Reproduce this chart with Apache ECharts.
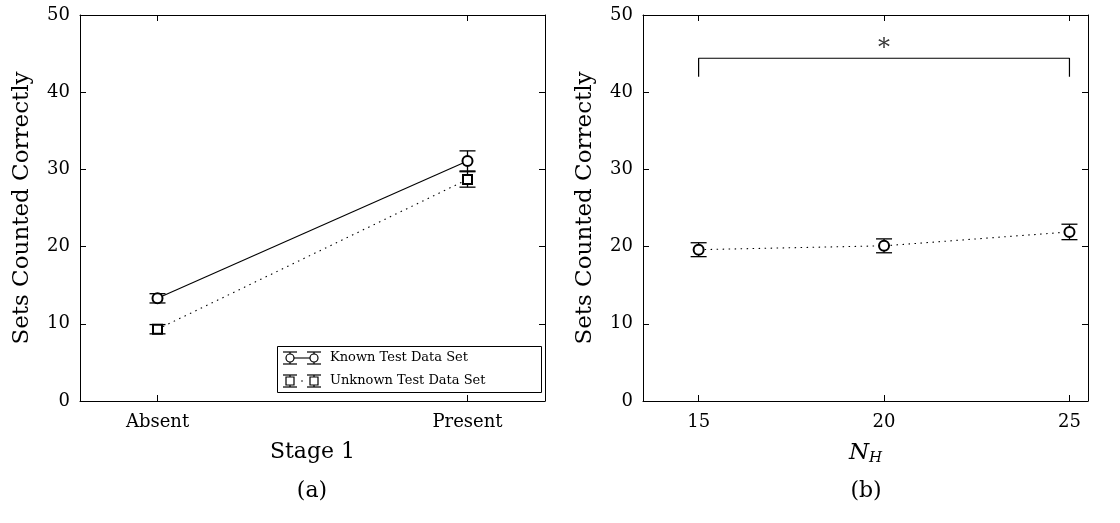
<!DOCTYPE html>
<html>
<head>
<meta charset="utf-8">
<style>
  html, body { margin: 0; padding: 0; background: #ffffff; }
  #chart { width: 1120px; height: 523px; }
</style>
<script src="https://cdn.jsdelivr.net/npm/echarts@6/dist/echarts.min.js"></script>
</head>
<body>
<div id="chart"></div>
<script>
// ---- panel (a): effect of Stage 1 ----
const stageLabels = ['Absent', 'Present'];
const stagePos = [0, 1];
const knownMean = [13.3, 31.1];
const knownErr = [0.6, 1.3];
const unknownMean = [9.3, 28.7];
const unknownErr = [0.6, 1.0];

// ---- panel (b): effect of N_H ----
const nhValues = [15, 20, 25];
const nhMean = [19.6, 20.1, 21.9];
const nhErr = [0.9, 0.9, 1.0];

// significance bracket over panel (b)
const sigFrom = 15;
const sigTo = 25;
const sigLevel = 44.4;
const sigFoot = 42.0;
const sigMarkY = 45.6;
const sigLabel = '*';

const FONT = 'DejaVu Serif';
const INK = '#000000';

const chart = echarts.init(document.getElementById('chart'), null, { renderer: 'canvas' });

function pairs(xs, ys, es) {
  return xs.map((x, i) => es ? [x, ys[i], es[i]] : [x, ys[i]]);
}

// vertical error bar with horizontal caps
function errorBarItem(params, api) {
  const x = api.value(0), m = api.value(1), e = api.value(2);
  const hi = api.coord([x, m + e]);
  const lo = api.coord([x, m - e]);
  const half = 8;
  const style = { stroke: INK, lineWidth: 1.3 };
  return {
    type: 'group',
    children: [
      { type: 'line', shape: { x1: hi[0], y1: hi[1], x2: lo[0], y2: lo[1] }, style },
      { type: 'line', shape: { x1: hi[0] - half, y1: hi[1], x2: hi[0] + half, y2: hi[1] }, style },
      { type: 'line', shape: { x1: lo[0] - half, y1: lo[1], x2: lo[0] + half, y2: lo[1] }, style }
    ]
  };
}

function errorSeries(xi, yi, data) {
  return {
    type: 'custom', xAxisIndex: xi, yAxisIndex: yi, z: 1,
    renderItem: errorBarItem, data, silent: true
  };
}

const dotted = [1.5, 4.5];

function baseX(gridIndex, min, max, ticks, position, showLabels, extra) {
  return Object.assign({
    type: 'value', gridIndex, min, max, position,
    axisLine: { show: true, onZero: false, lineStyle: { color: INK, width: 1 } },
    axisTick: { show: true, inside: true, length: 6, customValues: ticks, lineStyle: { color: INK } },
    axisLabel: { show: showLabels, customValues: ticks, color: INK, fontFamily: FONT, fontSize: 18, margin: 12 },
    splitLine: { show: false }
  }, extra || {});
}

function baseY(gridIndex, position, showLabels, extra) {
  return Object.assign({
    type: 'value', gridIndex, min: 0, max: 50, interval: 10, position,
    axisLine: { show: true, onZero: false, lineStyle: { color: INK, width: 1 } },
    axisTick: { show: true, inside: true, length: 6, lineStyle: { color: INK } },
    axisLabel: { show: showLabels, color: INK, fontFamily: FONT, fontSize: 18, margin: 10 },
    splitLine: { show: false }
  }, extra || {});
}

const yName = {
  name: 'Sets Counted Correctly', nameLocation: 'middle', nameGap: 46, nameRotate: 90,
  nameTextStyle: { color: INK, fontFamily: FONT, fontSize: 23 }
};

// legend glyph: error bar + marker, joined by a line, repeated twice
function legendGlyph(cx, cy, marker, dashedLink) {
  const half = 7, span = 6, gap = 24, z = 60;
  const parts = [];
  const xs = [cx, cx + gap];
  const st = { stroke: INK, lineWidth: 1.2 };
  xs.forEach(x => {
    parts.push({ type: 'line', z, shape: { x1: x, y1: cy - span, x2: x, y2: cy + span }, style: st });
    parts.push({ type: 'line', z, shape: { x1: x - half, y1: cy - span, x2: x + half, y2: cy - span }, style: st });
    parts.push({ type: 'line', z, shape: { x1: x - half, y1: cy + span, x2: x + half, y2: cy + span }, style: st });
  });
  if (dashedLink) {
    parts.push({ type: 'circle', z, shape: { cx: cx + gap / 2, cy, r: 0.8 }, style: { fill: INK } });
  } else {
    parts.push({ type: 'line', z, shape: { x1: cx + 4, y1: cy, x2: cx + gap - 4, y2: cy }, style: { stroke: INK, lineWidth: 1.1 } });
  }
  xs.forEach(x => {
    if (marker === 'circle') {
      parts.push({ type: 'circle', z: z + 1, shape: { cx: x, cy, r: 4 }, style: { fill: '#fff', stroke: INK, lineWidth: 1.2 } });
    } else {
      parts.push({ type: 'rect', z: z + 1, shape: { x: x - 4, y: cy - 4, width: 8, height: 8 }, style: { fill: '#fff', stroke: INK, lineWidth: 1.2 } });
    }
  });
  return parts;
}

const legendSeriesNames = ['Known Test Data Set', 'Unknown Test Data Set'];

const legendGraphics = [
  { type: 'rect', z: 50, shape: { x: 277.5, y: 346.5, width: 264, height: 46 }, style: { fill: '#fff', stroke: INK, lineWidth: 1 } },
  ...legendGlyph(290, 358, 'circle', false),
  ...legendGlyph(290, 381, 'square', true),
  { type: 'text', z: 62, style: { x: 330, y: 358, text: legendSeriesNames[0], fill: INK, font: '13px "' + FONT + '"', verticalAlign: 'middle' } },
  { type: 'text', z: 62, style: { x: 330, y: 381, text: legendSeriesNames[1], fill: INK, font: '13px "' + FONT + '"', verticalAlign: 'middle' } },
  { type: 'text', style: { x: 312, y: 491, text: '(a)', fill: INK, font: '22px "' + FONT + '"', align: 'center', verticalAlign: 'middle' } },
  { type: 'text', style: { x: 866, y: 491, text: '(b)', fill: INK, font: '22px "' + FONT + '"', align: 'center', verticalAlign: 'middle' } }
];

const option = {
  backgroundColor: '#ffffff',
  animation: false,
  grid: [
    { left: 80, top: 15, width: 465, height: 386, containLabel: false },
    { left: 643, top: 15, width: 445, height: 386, containLabel: false }
  ],
  xAxis: [
    baseX(0, -0.25, 1.25, stagePos, 'bottom', true, {
      name: 'Stage 1', nameLocation: 'middle', nameGap: 40,
      nameTextStyle: { color: INK, fontFamily: FONT, fontSize: 22 },
      axisLabel: {
        show: true, customValues: stagePos, color: INK, fontFamily: FONT, fontSize: 18, margin: 12,
        formatter: v => stageLabels[stagePos.indexOf(Math.round(v))] || ''
      }
    }),
    baseX(0, -0.25, 1.25, stagePos, 'top', false),
    baseX(1, 13.5, 25.5, nhValues, 'bottom', true, {
      name: '{n|N}{s|H}', nameLocation: 'middle', nameGap: 40,
      nameTextStyle: {
        color: INK, fontFamily: FONT, fontSize: 22,
        rich: {
          n: { fontFamily: FONT, fontStyle: 'italic', fontSize: 23, color: INK },
          s: { fontFamily: FONT, fontStyle: 'italic', fontSize: 15, color: INK, verticalAlign: 'bottom', padding: [10, 0, 0, 0] }
        }
      }
    }),
    baseX(1, 13.5, 25.5, nhValues, 'top', false)
  ],
  yAxis: [
    baseY(0, 'left', true, yName),
    baseY(0, 'right', false),
    baseY(1, 'left', true, yName),
    baseY(1, 'right', false)
  ],
  graphic: legendGraphics,
  series: [
    errorSeries(0, 0, pairs(stagePos, knownMean, knownErr)),
    errorSeries(0, 0, pairs(stagePos, unknownMean, unknownErr)),
    {
      name: legendSeriesNames[0], type: 'line', xAxisIndex: 0, yAxisIndex: 0, z: 3,
      data: pairs(stagePos, knownMean),
      symbol: 'emptyCircle', symbolSize: 10,
      itemStyle: { color: INK, borderWidth: 1.2 },
      lineStyle: { color: INK, width: 1.1 }
    },
    {
      name: legendSeriesNames[1], type: 'line', xAxisIndex: 0, yAxisIndex: 0, z: 3,
      data: pairs(stagePos, unknownMean),
      symbol: 'emptyRect', symbolSize: 9,
      itemStyle: { color: INK, borderWidth: 1.2 },
      lineStyle: { color: INK, width: 1.1, type: dotted }
    },
    errorSeries(2, 2, pairs(nhValues, nhMean, nhErr)),
    {
      type: 'line', xAxisIndex: 2, yAxisIndex: 2, z: 3,
      data: pairs(nhValues, nhMean),
      symbol: 'emptyCircle', symbolSize: 10,
      itemStyle: { color: INK, borderWidth: 1.2 },
      lineStyle: { color: INK, width: 1.1, type: dotted }
    },
    {
      type: 'line', xAxisIndex: 2, yAxisIndex: 2, z: 3, silent: true,
      data: [[sigFrom, sigFoot], [sigFrom, sigLevel], [sigTo, sigLevel], [sigTo, sigFoot]],
      symbol: 'none',
      lineStyle: { color: INK, width: 1.2 }
    },
    {
      type: 'scatter', xAxisIndex: 2, yAxisIndex: 2, z: 3, silent: true,
      data: [[(sigFrom + sigTo) / 2, sigMarkY]],
      symbolSize: 0,
      label: { show: true, position: 'inside', formatter: sigLabel, color: INK, fontFamily: FONT, fontSize: 24 }
    }
  ]
};

chart.setOption(option);
</script>
</body>
</html>
